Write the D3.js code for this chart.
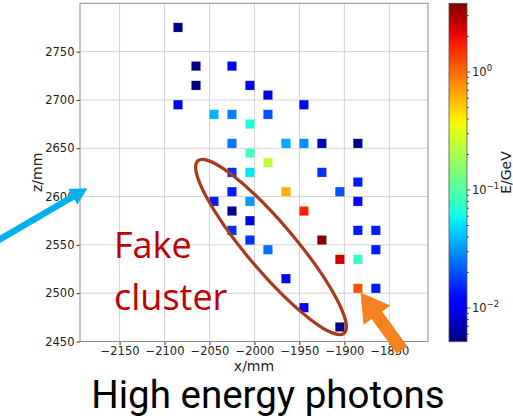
<!DOCTYPE html>
<html>
<head>
<meta charset="utf-8">
<script src="https://cdn.jsdelivr.net/npm/d3@7"></script>
<style>
  html, body { margin: 0; padding: 0; background: #fff; }
  svg { display: block; }
  .tick-label { font-family: "DejaVu Sans", sans-serif; font-size: 11.5px; fill: #222; }
  .axis-title { font-family: "DejaVu Sans", sans-serif; font-size: 14px; fill: #222; }
</style>
</head>
<body>
<svg id="chart" width="513" height="418"></svg>
<script>
// Calorimeter hits: x position (mm), z position (mm), deposited energy (GeV)
const hitX = [-2085, -2065, -2025, -2065, -2005, -1985, -2085, -1945, -2045, -2025,
              -1985, -2005, -2025, -1965, -1945, -1925, -1885, -2005, -1985, -2025,
              -2005, -1925, -1885, -2025, -1965, -1905, -2045, -2005, -1885, -2025,
              -1945, -2005, -2025, -1885, -1865, -2005, -1925, -1985, -1865, -1905,
              -1885, -1965, -1885, -1865, -1945, -1905];
const hitZ = [2775, 2735, 2735, 2715, 2715, 2705, 2695, 2695, 2685, 2685,
              2685, 2675, 2655, 2655, 2655, 2655, 2655, 2645, 2635, 2625,
              2625, 2625, 2615, 2605, 2605, 2605, 2595, 2595, 2595, 2585,
              2585, 2575, 2565, 2565, 2565, 2555, 2555, 2545, 2545, 2535,
              2535, 2515, 2505, 2505, 2485, 2465];
const hitE = [0.0056, 0.0053, 0.011, 0.0052, 0.010, 0.009, 0.011, 0.011, 0.038, 0.027,
              0.020, 0.066, 0.025, 0.035, 0.030, 0.0074, 0.0053, 0.088, 0.24, 0.016,
              0.052, 0.016, 0.014, 0.014, 0.62, 0.020, 0.014, 0.031, 0.012, 0.0057,
              1.68, 0.009, 0.016, 0.014, 0.014, 0.016, 3.7, 0.025, 0.014, 2.4,
              0.078, 0.012, 1.2, 0.014, 0.011, 0.0058];

const xTicks = [-2150, -2100, -2050, -2000, -1950, -1900, -1850];
const zTicks = [2450, 2500, 2550, 2600, 2650, 2700, 2750];
const energyTicks = [0.01, 0.1, 1];
const energyTickExp = ["\u22122", "\u22121", "0"];

const svg = d3.select("#chart");
const plot = { left: 80, right: 428, top: 3.3, bottom: 341.5 };

const x = d3.scaleLinear().domain([-2194, -1807]).range([plot.left, plot.right]);
const z = d3.scaleLinear().domain([2450, 2800]).range([plot.bottom, plot.top]);

// matplotlib "jet" colormap, piecewise linear in each channel
function piecewise(pts, t) {
  for (let i = 1; i < pts.length; i++) {
    if (t <= pts[i][0]) {
      const [t0, v0] = pts[i - 1], [t1, v1] = pts[i];
      return v0 + (v1 - v0) * (t - t0) / (t1 - t0);
    }
  }
  return pts[pts.length - 1][1];
}
function jet(t) {
  t = Math.max(0, Math.min(1, t));
  const r = piecewise([[0, 0], [0.35, 0], [0.66, 1], [0.89, 1], [1, 0.5]], t);
  const g = piecewise([[0, 0], [0.125, 0], [0.375, 1], [0.64, 1], [0.91, 0], [1, 0]], t);
  const b = piecewise([[0, 0.5], [0.11, 1], [0.34, 1], [0.65, 0], [1, 0]], t);
  return d3.rgb(r * 255, g * 255, b * 255).formatHex();
}
const eMin = 0.00518, eMax = 3.82;
const color = d3.scaleSequentialLog(jet).domain([eMin, eMax]);

// grid
const grid = svg.append("g").attr("stroke", "#d4d4d4").attr("stroke-width", 1);
grid.selectAll("line.gx").data(xTicks).join("line")
  .attr("x1", d => x(d)).attr("x2", d => x(d))
  .attr("y1", plot.top).attr("y2", plot.bottom);
grid.selectAll("line.gz").data(zTicks).join("line")
  .attr("x1", plot.left).attr("x2", plot.right)
  .attr("y1", d => z(d)).attr("y2", d => z(d));

// hits
const size = 9.3;
svg.append("g").selectAll("rect").data(d3.range(hitX.length)).join("rect")
  .attr("x", i => x(hitX[i]) - size / 2)
  .attr("y", i => z(hitZ[i]) - size / 2)
  .attr("width", size).attr("height", size)
  .attr("fill", i => color(hitE[i]))
  .attr("stroke", "#fff").attr("stroke-opacity", 0.3).attr("stroke-width", 0.6);

// axes
const xAxis = svg.append("g").attr("transform", `translate(0,${plot.bottom})`)
  .call(d3.axisBottom(x).tickValues(xTicks).tickSize(3.5).tickPadding(1.5)
    .tickFormat(d => d3.format("d")(d).replace("-", "\u2212")));
const zAxis = svg.append("g").attr("transform", `translate(${plot.left},0)`)
  .call(d3.axisLeft(z).tickValues(zTicks).tickSize(3.5).tickPadding(2)
    .tickFormat(d3.format("d")));
[xAxis, zAxis].forEach(a => {
  a.select(".domain").remove();
  a.selectAll(".tick line").attr("stroke", "#333");
  a.selectAll(".tick text").attr("class", "tick-label").attr("fill", null);
  a.attr("font-family", null).attr("font-size", null);
});

// frame
svg.append("rect")
  .attr("x", plot.left).attr("y", plot.top)
  .attr("width", plot.right - plot.left).attr("height", plot.bottom - plot.top)
  .attr("fill", "none").attr("stroke", "#8c8c8c").attr("stroke-width", 1);

svg.append("text").attr("class", "axis-title")
  .attr("x", (plot.left + plot.right) / 2).attr("y", 370.5)
  .attr("text-anchor", "middle").text("x/mm");
svg.append("text").attr("class", "axis-title")
  .attr("transform", `translate(42,${(plot.top + plot.bottom) / 2}) rotate(-90)`)
  .attr("text-anchor", "middle").text("z/mm");

// colorbar
const cb = { x: 449, w: 18, top: 3.3, bottom: 341.7 };
const cScale = d3.scaleLog().domain([eMin, eMax]).range([cb.bottom, cb.top]);
const grad = svg.append("defs").append("linearGradient")
  .attr("id", "jetGrad").attr("x1", 0).attr("x2", 0).attr("y1", 1).attr("y2", 0);
d3.range(0, 1.0001, 0.01).forEach(t => {
  grad.append("stop").attr("offset", t).attr("stop-color", jet(t));
});
svg.append("rect").attr("x", cb.x).attr("y", cb.top)
  .attr("width", cb.w).attr("height", cb.bottom - cb.top)
  .attr("fill", "url(#jetGrad)").attr("stroke", "#555").attr("stroke-width", 0.8);

const minorTicks = [];
[0.001, 0.01, 0.1, 1].forEach(dec => {
  for (let m = 2; m <= 9; m++) {
    const v = dec * m;
    if (v > eMin && v < eMax) minorTicks.push(v);
  }
});
const cbTicks = svg.append("g").attr("stroke", "#333").attr("stroke-width", 0.8);
cbTicks.selectAll("line.minor").data(minorTicks).join("line")
  .attr("x1", cb.x + cb.w).attr("x2", cb.x + cb.w + 2)
  .attr("y1", d => cScale(d)).attr("y2", d => cScale(d));
cbTicks.selectAll("line.major").data(energyTicks).join("line")
  .attr("x1", cb.x + cb.w).attr("x2", cb.x + cb.w + 3.5)
  .attr("y1", d => cScale(d)).attr("y2", d => cScale(d));

const cbLabels = svg.append("g").selectAll("text").data(energyTicks).join("text")
  .attr("class", "tick-label")
  .attr("x", cb.x + cb.w + 5)
  .attr("y", d => cScale(d) + 4.5);
cbLabels.append("tspan").text("10");
cbLabels.append("tspan").attr("dy", -5.5).attr("font-size", "8.5px")
  .text((d, i) => energyTickExp[i]);

svg.append("text").attr("class", "axis-title")
  .attr("transform", `translate(511,${(cb.top + cb.bottom) / 2}) rotate(-90)`)
  .attr("text-anchor", "middle").text("E/GeV");

// annotations
function arrowPath(tail, tip, shaftW, headLen, headW) {
  const dx = tip[0] - tail[0], dy = tip[1] - tail[1];
  const L = Math.hypot(dx, dy), ux = dx / L, uy = dy / L, nx = -uy, ny = ux;
  const bx = tip[0] - ux * headLen, by = tip[1] - uy * headLen;
  const p = [
    [tail[0] + nx * shaftW / 2, tail[1] + ny * shaftW / 2],
    [bx + nx * shaftW / 2, by + ny * shaftW / 2],
    [bx + nx * headW / 2, by + ny * headW / 2],
    tip,
    [bx - nx * headW / 2, by - ny * headW / 2],
    [bx - nx * shaftW / 2, by - ny * shaftW / 2],
    [tail[0] - nx * shaftW / 2, tail[1] - ny * shaftW / 2]
  ];
  return "M" + p.map(q => q.join(",")).join("L") + "Z";
}

svg.append("ellipse")
  .attr("cx", 0).attr("cy", 0).attr("rx", 113).attr("ry", 24)
  .attr("transform", "translate(271,247) rotate(49.7)")
  .attr("fill", "none").attr("stroke", "#a93b1c").attr("stroke-width", 3.2);

svg.append("path").attr("d", arrowPath([-4, 241.5], [87.5, 188.2], 6.5, 17, 18))
  .attr("fill", "#00b0f0");
svg.append("path").attr("d", arrowPath([402, 350], [360.5, 292.5], 13, 28, 33))
  .attr("fill", "#f5821f");

const annotFont = "'Open Sans', sans-serif";
svg.append("text").attr("x", 114).attr("y", 258)
  .attr("font-family", annotFont).attr("font-size", 36).attr("fill", "#c00000")
  .text("Fake");
svg.append("text").attr("x", 114).attr("y", 310)
  .attr("font-family", annotFont).attr("font-size", 36).attr("fill", "#c00000")
  .text("cluster");

svg.append("text").attr("x", 268).attr("y", 408)
  .attr("text-anchor", "middle")
  .attr("font-family", "Roboto, 'Open Sans', sans-serif").attr("font-size", 38.5).attr("fill", "#000")
  .text("High energy photons");
</script>
</body>
</html>
